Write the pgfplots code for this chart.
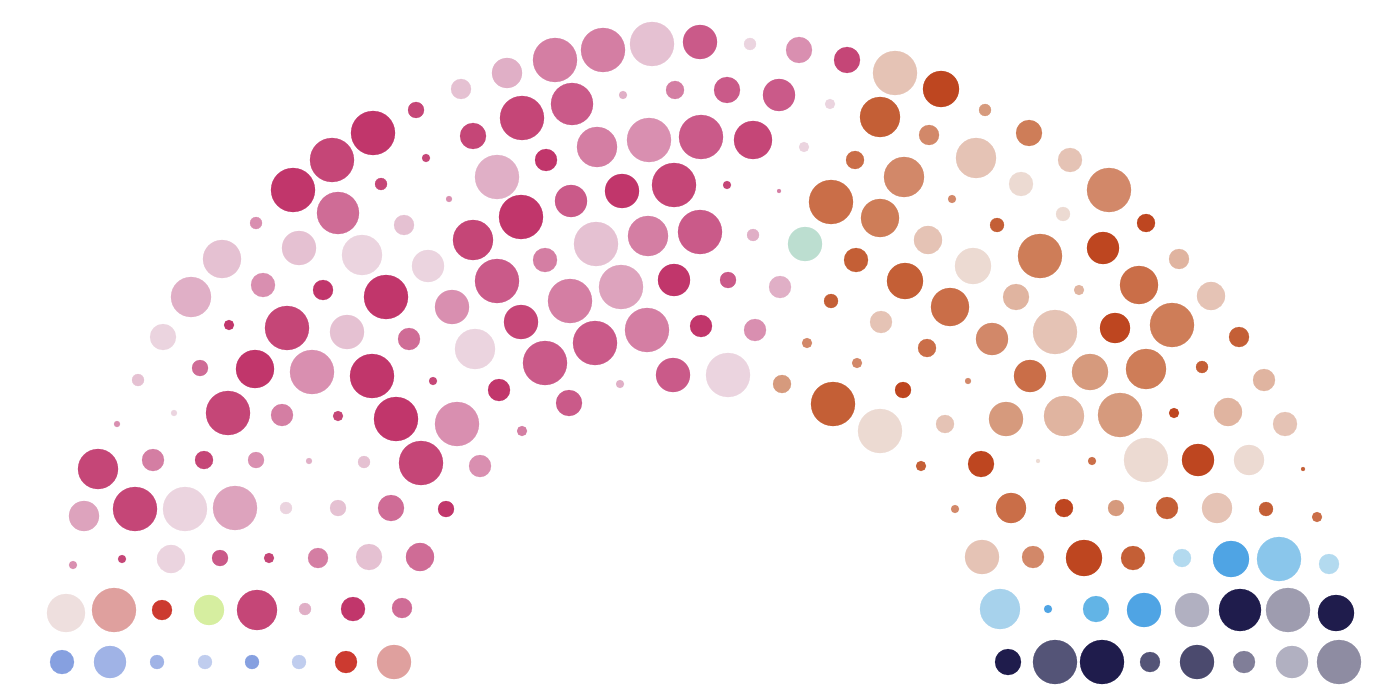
\documentclass[border=0pt]{standalone}
\usepackage{pgfplots}
\usepackage{pgfplotstable}
\pgfplotsset{compat=1.18}
% pinks
\definecolor{pa}{HTML}{C1366B}
\definecolor{pb}{HTML}{C54677}
\definecolor{pc}{HTML}{CA5A89}
\definecolor{pd}{HTML}{CF6C96}
\definecolor{pe}{HTML}{D47EA3}
\definecolor{pf}{HTML}{D98FB0}
\definecolor{pg}{HTML}{DDA3BD}
\definecolor{ph}{HTML}{E0AFC6}
\definecolor{pi}{HTML}{E5C1D2}
\definecolor{pj}{HTML}{EBD4DF}
% oranges
\definecolor{oa}{HTML}{BE4620}
\definecolor{ob}{HTML}{C45F36}
\definecolor{oc}{HTML}{CA6E48}
\definecolor{od}{HTML}{CE7D58}
\definecolor{oe}{HTML}{D28869}
\definecolor{of}{HTML}{D69A7D}
\definecolor{og}{HTML}{E0B4A0}
\definecolor{oh}{HTML}{E5C3B5}
\definecolor{oi}{HTML}{ECDAD2}
% others
\definecolor{navy}{HTML}{1F1C4C}
\definecolor{slate}{HTML}{545477}
\definecolor{slatetwo}{HTML}{4B4A6E}
\definecolor{graytwo}{HTML}{807E98}
\definecolor{grayone}{HTML}{9E9CAF}
\definecolor{graythree}{HTML}{8E8CA2}
\definecolor{lgray}{HTML}{B1B0C1}
\definecolor{cblue}{HTML}{4FA4E4}
\definecolor{mblue}{HTML}{62B4E6}
\definecolor{sky}{HTML}{8AC6EB}
\definecolor{lsky}{HTML}{B3DAEF}
\definecolor{lskytwo}{HTML}{A7D2EC}
\definecolor{perone}{HTML}{86A0E0}
\definecolor{pertwo}{HTML}{A0B3E6}
\definecolor{perthree}{HTML}{C0CDEE}
\definecolor{cgreen}{HTML}{D6EEA0}
\definecolor{cteal}{HTML}{BCDED0}
\definecolor{cred}{HTML}{CC3A30}
\definecolor{salmon}{HTML}{DFA09E}
\definecolor{pale}{HTML}{EEDFDE}

\pgfplotstableread{
x y r c
555 60 22 pe
603 50 22 pe
652 44 22 pi
700 42 17 pc
750 44 6 pj
799 50 13 pf
847 60 13 pb
507 73 15 ph
461 89 10 pi
895 73 22 oh
941 89 18 oa
623 95 4 ph
675 90 9 pe
727 90 13 pc
779 95 16 pc
416 110 8 pb
522 118 22 pb
572 104 21 pc
830 104 5 pj
880 117 20 ob
985 110 6 of
373 133 22 pa
473 136 13 pb
597 147 20 pe
649 140 22 pf
701 137 22 pc
753 140 19 pb
804 147 5 pj
929 135 10 oe
1029 133 13 od
332 160 22 pb
426 158 4 pb
546 160 11 pa
855 160 9 oc
976 158 20 oh
1070 160 12 oh
293 190 22 pa
381 184 6 pb
497 177 22 ph
571 201 16 pc
622 191 17 pa
674 185 22 pb
727 185 4 pb
779 191 2 pe
831 202 22 oc
904 177 20 oe
1021 184 12 oi
1109 190 22 oe
338 213 21 pd
256 223 6 pf
449 199 3 pf
404 225 10 pi
521 217 22 pa
880 218 19 od
952 199 4 oe
997 225 7 ob
1063 214 7 oi
1146 223 9 oa
473 240 20 pb
596 244 22 pi
648 236 20 pe
700 232 22 pc
753 235 6 ph
805 244 17 cteal
928 240 14 oh
222 259 19 pi
299 248 17 pi
362 255 20 pj
428 266 16 pj
545 260 12 pe
856 260 12 ob
973 266 18 oi
1040 256 22 od
1103 248 16 oa
1179 259 10 og
191 297 20 ph
263 285 12 pf
323 290 10 pa
386 297 22 pa
452 307 17 pf
497 281 22 pc
570 301 22 pe
621 287 22 pg
674 280 16 pa
728 280 8 pc
780 287 11 ph
831 301 7 ob
905 281 18 ob
950 307 19 oc
1016 297 13 og
1079 290 5 og
1139 285 19 oc
1211 296 14 oh
163 337 13 pj
229 325 5 pa
287 328 22 pb
347 332 17 pi
409 339 11 pd
475 349 20 pj
521 322 17 pb
595 343 22 pc
647 330 22 pe
701 326 11 pa
755 330 11 pf
807 343 5 oe
881 322 11 oh
927 348 9 oc
992 339 16 oe
1055 332 22 oh
1115 328 15 oa
1172 325 22 od
1239 337 10 ob
138 380 6 pi
200 368 8 pd
255 369 19 pa
312 372 22 pf
372 376 22 pa
433 381 4 pb
499 390 11 pa
545 363 22 pc
620 384 4 ph
673 375 17 pc
728 375 22 pj
782 384 9 of
857 363 5 oe
903 390 8 oa
968 381 3 oe
1030 376 16 oc
1090 372 18 of
1146 369 20 od
1202 367 6 ob
1264 380 11 og
117 424 3 pf
174 413 3 pj
228 413 22 pb
282 415 11 pe
338 416 5 pb
396 419 22 pa
457 424 22 pf
522 431 5 pe
569 403 13 pc
833 404 22 ob
880 431 22 oi
945 424 9 oh
1006 419 17 of
1064 416 20 og
1120 415 22 of
1174 413 5 oa
1228 412 14 og
1285 424 12 oh
98 469 20 pb
153 460 11 pe
204 460 9 pb
256 460 8 pf
309 461 3 ph
364 462 6 pi
421 463 22 pb
480 466 11 pf
921 466 5 ob
981 464 13 oa
1038 461 2 oi
1092 461 4 oc
1146 460 22 oi
1198 460 16 oa
1249 460 15 oi
1303 469 2 ob
84 516 15 pg
135 509 22 pb
185 509 22 pj
235 508 22 pg
286 508 6 pj
338 508 8 pi
391 508 13 pd
446 509 8 pa
955 509 4 oe
1011 508 15 oc
1064 508 9 oa
1116 508 8 of
1167 508 11 ob
1217 508 15 oh
1266 509 7 ob
1317 517 5 oc
73 565 4 pf
122 559 4 pb
171 559 14 pj
220 558 8 pc
269 558 5 pb
318 558 10 pe
369 557 13 pi
420 557 14 pd
982 557 17 oh
1033 557 11 oe
1084 558 18 oa
1133 558 12 ob
1182 558 9 lsky
1231 559 18 cblue
1279 559 22 sky
1329 564 10 lsky
66 613 19 pale
114 610 22 salmon
162 610 10 cred
209 610 15 cgreen
257 610 20 pb
305 609 6 ph
353 609 12 pa
402 608 10 pd
1000 609 20 lskytwo
1048 609 4 cblue
1096 609 13 mblue
1144 610 17 cblue
1192 610 17 lgray
1240 610 21 navy
1288 610 22 grayone
1336 613 18 navy
62 662 12 perone
110 662 16 pertwo
157 662 7 pertwo
205 662 7 perthree
252 662 7 perone
299 662 7 perthree
346 662 11 cred
394 662 17 salmon
1008 662 13 navy
1055 662 22 slate
1102 662 22 navy
1150 662 10 slate
1197 662 17 slatetwo
1244 662 11 graytwo
1292 662 16 lgray
1339 662 22 graythree
}\dotdata

\begin{document}
\begin{tikzpicture}
\begin{axis}[
  width=1400pt, height=698pt, scale only axis,
  xmin=0, xmax=1400, ymin=0, ymax=698, y dir=reverse,
  hide axis, clip=false,
]
\addplot[scatter, only marks, mark=*, line width=0.2pt,
  scatter src=explicit symbolic,
  scatter/classes={
    pa={mark=*,pa}, pb={mark=*,pb}, pc={mark=*,pc}, pd={mark=*,pd},
    pe={mark=*,pe}, pf={mark=*,pf}, pg={mark=*,pg}, ph={mark=*,ph},
    pi={mark=*,pi}, pj={mark=*,pj},
    oa={mark=*,oa}, ob={mark=*,ob}, oc={mark=*,oc}, od={mark=*,od},
    oe={mark=*,oe}, of={mark=*,of}, og={mark=*,og}, oh={mark=*,oh},
    oi={mark=*,oi},
    navy={mark=*,navy}, slate={mark=*,slate}, slatetwo={mark=*,slatetwo},
    graytwo={mark=*,graytwo}, grayone={mark=*,grayone},
    graythree={mark=*,graythree}, lgray={mark=*,lgray},
    cblue={mark=*,cblue}, mblue={mark=*,mblue}, sky={mark=*,sky},
    lsky={mark=*,lsky}, lskytwo={mark=*,lskytwo},
    perone={mark=*,perone}, pertwo={mark=*,pertwo}, perthree={mark=*,perthree},
    cgreen={mark=*,cgreen}, cteal={mark=*,cteal}, cred={mark=*,cred},
    salmon={mark=*,salmon}, pale={mark=*,pale}},
  visualization depends on={\thisrow{r} \as \rad},
  scatter/@pre marker code/.append style={/tikz/mark size=\rad},
] table[x=x, y=y, meta=c] {\dotdata};
\end{axis}
\path (current axis.south west) rectangle (current axis.north east);
\end{tikzpicture}
\end{document}
